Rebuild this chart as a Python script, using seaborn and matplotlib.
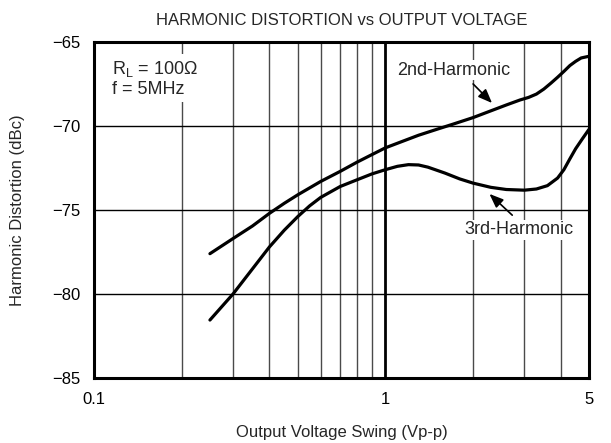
import numpy as np
import pandas as pd
import seaborn as sns
import matplotlib.pyplot as plt
from matplotlib.ticker import FixedLocator, LogLocator, NullFormatter


# values
volts_2nd = [0.25, 0.3, 0.35, 0.4, 0.45, 0.5, 0.6, 0.7, 0.8, 0.9, 1.0, 1.15,
             1.3, 1.5, 1.7, 2.0, 2.3, 2.6, 2.9, 3.1, 3.3, 3.5, 3.7, 3.9, 4.1,
             4.3, 4.5, 4.7, 5.0]
hd2_dbc = [-77.6, -76.7, -75.95, -75.2, -74.6, -74.1, -73.3, -72.7, -72.15,
           -71.7, -71.3, -70.9, -70.55, -70.2, -69.9, -69.5, -69.1, -68.75,
           -68.45, -68.3, -68.1, -67.8, -67.45, -67.1, -66.75, -66.4, -66.15,
           -65.95, -65.85]

volts_3rd = [0.25, 0.3, 0.35, 0.4, 0.45, 0.5, 0.55, 0.6, 0.7, 0.8, 0.9, 1.0,
             1.1, 1.2, 1.3, 1.4, 1.6, 1.8, 2.0, 2.3, 2.6, 3.0, 3.3, 3.6, 3.9,
             4.1, 4.3, 4.5, 4.75, 5.0]
hd3_dbc = [-81.55, -80.0, -78.5, -77.2, -76.2, -75.4, -74.75, -74.25, -73.6,
           -73.2, -72.85, -72.6, -72.4, -72.3, -72.32, -72.45, -72.8, -73.15,
           -73.4, -73.65, -73.78, -73.82, -73.75, -73.55, -73.1, -72.6,
           -71.95, -71.35, -70.75, -70.2]

x_ticks = [0.1, 1, 5]
x_tick_labels = ['0.1', '1', '5']
y_ticks = [-85, -80, -75, -70, -65]

sns.set_theme(style='white')
plt.rcParams['font.family'] = ['Liberation Sans', 'DejaVu Sans']
plt.rcParams['mathtext.fontset'] = 'custom'
plt.rcParams['mathtext.rm'] = 'Liberation Sans'
plt.rcParams['mathtext.it'] = 'Liberation Sans'

df2 = pd.DataFrame({'volts': volts_2nd, 'dbc': hd2_dbc})
df3 = pd.DataFrame({'volts': volts_3rd, 'dbc': hd3_dbc})

fig = plt.figure(figsize=(6.11, 4.43), dpi=100)
ax = fig.add_axes([94 / 611, 65 / 443, 495 / 611, 336 / 443])

sns.lineplot(data=df2, x='volts', y='dbc', color='black', lw=2.3, ax=ax)
sns.lineplot(data=df3, x='volts', y='dbc', color='black', lw=2.3, ax=ax)

ax.set_xscale('log')
ax.set_xlim(0.1, 5)
ax.set_ylim(-85, -65)

ax.xaxis.set_major_locator(FixedLocator(x_ticks))
ax.set_xticklabels(x_tick_labels)
ax.xaxis.set_minor_locator(LogLocator(base=10, subs=np.arange(2, 10)))
ax.xaxis.set_minor_formatter(NullFormatter())
ax.set_yticks(y_ticks)

ax.tick_params(axis='both', which='both', length=0, labelsize=12, pad=10,
               colors='black')

ax.grid(False)
ax.grid(True, which='minor', axis='x', color='#4a4a4a', lw=1.0)
ax.grid(True, which='major', axis='y', color='black', lw=1.0)
ax.axvline(1, color='black', lw=2.0, zorder=1.5)
ax.set_axisbelow(True)

for s in ax.spines.values():
    s.set_color('black')
    s.set_linewidth(2.2)

ax.set_xlabel('Output Voltage Swing (Vp-p)', fontsize=12, labelpad=13)
ax.set_ylabel('Harmonic Distortion (dBc)', fontsize=12, labelpad=19)
ax.set_title('HARMONIC DISTORTION vs OUTPUT VOLTAGE', fontsize=12, pad=12)

ax.text(0.036, 0.95, 'R$_{\\mathrm{L}}$ = 100Ω\nf = 5MHz', transform=ax.transAxes,
        fontsize=13, va='top', ha='left', linespacing=1.15,
        bbox=dict(facecolor='white', edgecolor='none', pad=3))

ax.text(1.72, -66.67, '2nd-Harmonic', fontsize=13, ha='center', va='center',
        bbox=dict(facecolor='white', edgecolor='none', pad=1))
ax.annotate('', xy=(2.36, -68.75), xytext=(1.97, -67.38),
            arrowprops=dict(arrowstyle='-|>,head_length=0.7,head_width=0.28',
                            color='black', lw=1.2))

ax.text(2.88, -76.19, '3rd-Harmonic', fontsize=13, ha='center', va='center',
        bbox=dict(facecolor='white', edgecolor='none', pad=1))
ax.annotate('', xy=(2.24, -73.93), xytext=(2.77, -75.42),
            arrowprops=dict(arrowstyle='-|>,head_length=0.7,head_width=0.28',
                            color='black', lw=1.2))

fig.savefig('out.png', dpi=100)
